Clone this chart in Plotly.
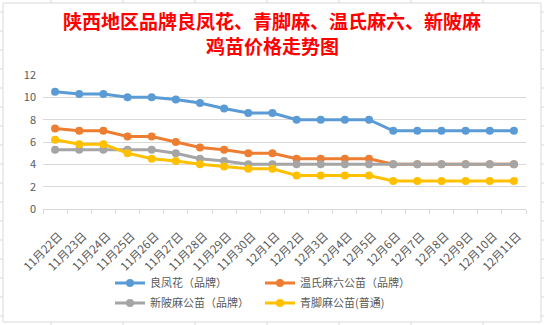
import plotly.graph_objects as go

dates = ["11月22日", "11月23日", "11月24日", "11月25日", "11月26日", "11月27日", "11月28日",
         "11月29日", "11月30日", "12月1日", "12月2日", "12月3日", "12月4日", "12月5日",
         "12月6日", "12月7日", "12月8日", "12月9日", "12月10日", "12月11日"]

liangfenghua = [10.5, 10.3, 10.3, 10.0, 10.0, 9.8, 9.5, 9.0, 8.6, 8.6,
                8.0, 8.0, 8.0, 8.0, 7.0, 7.0, 7.0, 7.0, 7.0, 7.0]
wenshi = [7.2, 7.0, 7.0, 6.5, 6.5, 6.0, 5.5, 5.3, 5.0, 5.0,
          4.5, 4.5, 4.5, 4.5, 4.0, 4.0, 4.0, 4.0, 4.0, 4.0]
xinpo = [5.3, 5.3, 5.3, 5.3, 5.3, 5.0, 4.5, 4.3, 4.0, 4.0,
         4.0, 4.0, 4.0, 4.0, 4.0, 4.0, 4.0, 4.0, 4.0, 4.0]
qingjiao = [6.2, 5.8, 5.8, 5.0, 4.5, 4.3, 4.0, 3.8, 3.6, 3.6,
            3.0, 3.0, 3.0, 3.0, 2.5, 2.5, 2.5, 2.5, 2.5, 2.5]

series_names = ["良凤花（品牌）", "温氏麻六公苗（品牌）", "新陂麻公苗（品牌）", "青脚麻公苗(普通)"]
series_values = [liangfenghua, wenshi, xinpo, qingjiao]
colors = ["#5B9BD5", "#ED7D31", "#A5A5A5", "#FFC000"]
legend_ids = ["legend", "legend", "legend2", "legend2"]

title_lines = ["陕西地区品牌良凤花、青脚麻、温氏麻六、新陂麻", "鸡苗价格走势图"]

W, H = 544, 325
L, R, T, B = 43, 18, 75, 116
pw, ph = W - L - R, H - T - B

def px_x(x):
    return (x - L) / pw

def px_y(y):
    return (H - B - y) / ph

FONT = "Noto Sans CJK SC"
TXT = "#595959"

fig = go.Figure()
for name, vals, c, lg in zip(series_names, series_values, colors, legend_ids):
    fig.add_trace(go.Scatter(
        x=dates, y=vals, name=name, mode="lines+markers",
        line=dict(color=c, width=3),
        marker=dict(color=c, size=8),
        legend=lg,
    ))

shapes = []
shapes.append(dict(type="rect", xref="paper", yref="paper",
                   x0=px_x(3), x1=px_x(541), y0=px_y(322), y1=px_y(3),
                   line=dict(color="#D9D9D9", width=1), fillcolor="rgba(0,0,0,0)", layer="below"))
for k in range(17):
    yy = 12 + 19 * k
    shapes.append(dict(type="line", xref="paper", yref="paper",
                       x0=px_x(0), x1=px_x(3), y0=px_y(yy), y1=px_y(yy),
                       line=dict(color="#D9D9D9", width=1)))
    shapes.append(dict(type="line", xref="paper", yref="paper",
                       x0=px_x(541), x1=px_x(544), y0=px_y(yy), y1=px_y(yy),
                       line=dict(color="#D9D9D9", width=1)))
for k in range(7):
    xx = 51 + 72 * k
    shapes.append(dict(type="line", xref="paper", yref="paper",
                       x0=px_x(xx), x1=px_x(xx), y0=px_y(0), y1=px_y(3),
                       line=dict(color="#D9D9D9", width=1)))
    shapes.append(dict(type="line", xref="paper", yref="paper",
                       x0=px_x(xx), x1=px_x(xx), y0=px_y(322), y1=px_y(325),
                       line=dict(color="#D9D9D9", width=1)))

annotations = []
for txt, yy in zip(title_lines, [20, 45]):
    annotations.append(dict(text=f"<b>{txt}</b>", xref="paper", yref="paper",
                            x=px_x(272), y=px_y(yy), xanchor="center", yanchor="middle",
                            showarrow=False,
                            font=dict(family=FONT, size=19, color="#FF0000")))

fig.update_layout(
    width=W, height=H,
    margin=dict(l=L, r=R, t=T, b=B, autoexpand=False),
    paper_bgcolor="white", plot_bgcolor="white",
    font=dict(family=FONT, color=TXT, size=11),
    xaxis=dict(type="category", range=[-0.5, len(dates) - 0.5], automargin=False,
               showgrid=False, showline=True, linecolor="#D9D9D9", linewidth=1,
               ticks="outside", tickson="boundaries", ticklen=4, tickcolor="#D9D9D9",
               tickangle=-45, ticklabelstandoff=15, ticklabelshift=4,
               tickfont=dict(size=11.5, color=TXT, family=FONT)),
    yaxis=dict(range=[0, 12], dtick=2, showgrid=True, gridcolor="#D9D9D9", gridwidth=1,
               automargin=False,
               zeroline=False, showline=False, ticks="", ticklabelstandoff=6,
               tickfont=dict(size=11, color=TXT, family=FONT)),
    legend=dict(orientation="h", x=px_x(110), xanchor="left", y=px_y(283), yanchor="middle",
                entrywidth=105, font=dict(size=11, color=TXT, family=FONT),
                bgcolor="rgba(0,0,0,0)", tracegroupgap=0),
    legend2=dict(orientation="h", x=px_x(110), xanchor="left", y=px_y(303), yanchor="middle",
                 entrywidth=105, font=dict(size=11, color=TXT, family=FONT),
                 bgcolor="rgba(0,0,0,0)", tracegroupgap=0),
    shapes=shapes,
    annotations=annotations,
    showlegend=True,
)

fig.write_html("out.html")
